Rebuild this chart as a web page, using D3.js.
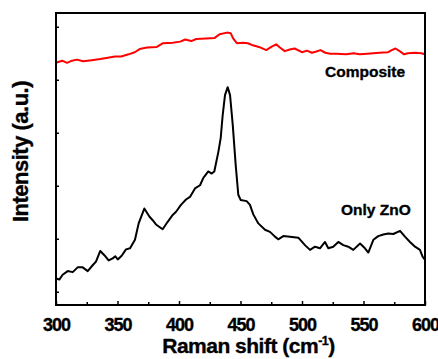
<!DOCTYPE html>
<html>
<head>
<meta charset="utf-8">
<script src="https://cdn.jsdelivr.net/npm/d3@7"></script>
<style>
  html, body { margin: 0; padding: 0; background: #fff; }
  svg text { font-family: "Liberation Sans", Arial, sans-serif; font-weight: bold; fill: #000; stroke: #000; stroke-width: 0.35px; }
</style>
</head>
<body>
<svg id="chart" width="438" height="359"></svg>
<script>
// Raman shift (cm^-1) and intensity (a.u., offset) for the two spectra
const compositeShift = [300,305,309,313,317,322,329,336,341,348,353,359,364,368,374,382,387,395,401,405,410,414,422,429,433,439,442,444,447,452,456,460,465,471,475,479,482,486,490,494,500,504,508,511,515,519,523,528,536,542,547,553,558,563,570,573,576,580,583,586,592,597,600];
const compositeIntensity = [5.32,5.36,5.32,5.36,5.38,5.35,5.37,5.39,5.41,5.44,5.44,5.48,5.52,5.58,5.61,5.62,5.69,5.70,5.72,5.76,5.73,5.77,5.78,5.79,5.86,5.89,5.88,5.78,5.69,5.70,5.69,5.65,5.62,5.56,5.62,5.67,5.61,5.54,5.57,5.59,5.52,5.55,5.51,5.53,5.56,5.51,5.49,5.49,5.48,5.50,5.48,5.49,5.50,5.51,5.52,5.56,5.59,5.53,5.48,5.50,5.51,5.50,5.48];

const znoShift = [300,302.7,305.4,309.5,313.6,317.6,321.7,325.8,329.8,332.5,336,339.3,342.8,346.1,348.2,350.2,353.4,356.9,360.2,364.2,367.2,371.8,375.9,378.6,381.3,386.7,390.8,394.9,397.6,401.6,405.7,408.9,413,417.1,419.8,423.8,426.6,428.7,432,433.9,435.5,437.4,439.6,441.5,443.7,446.1,448.2,450.2,455,457.7,460.4,464.5,469.9,474,478,480.7,484.8,490.2,497,502.4,506.5,510.6,514.6,518.7,521.4,525.4,529.5,533.6,537.6,541.7,547.2,551.2,553.9,558,562,566.1,570.2,574.2,579.7,583.7,587.8,591.9,595.9,598.1,600];
const znoIntensity = [1.25,1.23,1.32,1.39,1.37,1.46,1.46,1.39,1.50,1.57,1.77,1.69,1.59,1.63,1.67,1.61,1.68,1.80,1.82,1.98,2.29,2.57,2.42,2.35,2.27,2.18,2.32,2.45,2.51,2.64,2.74,2.79,2.95,3.01,3.15,3.27,3.23,3.27,3.64,3.90,4.33,4.71,4.86,4.71,4.15,3.39,2.83,2.73,2.71,2.64,2.46,2.29,2.17,2.13,2.04,1.99,2.05,2.04,2.02,1.88,1.79,1.85,1.82,1.94,1.82,1.85,1.94,1.88,1.85,1.79,1.91,1.82,1.74,1.98,2.05,2.08,2.10,2.09,2.15,2.04,1.94,1.85,1.79,1.66,1.60];

const xMajorTicks = [300,350,400,450,500,550,600];
const xMinorTicks = [325,375,425,475,525,575];
const yTicks = [1,2,3,4,5,6];
const seriesLabels = ["Composite", "Only ZnO"];
const xTitle = "Raman shift (cm";
const xTitleSup = "-1";
const yTitle = "Intensity (a.u.)";

const mLeft = 56, mRight = 425, mTop = 13, mBottom = 305;

const svg = d3.select("#chart");
const x = d3.scaleLinear().domain([300, 600]).range([mLeft, mRight]);
const y = d3.scaleLinear().domain([0.75, 6.26]).range([mBottom, mTop]);

// curves
const line = d3.line().x(d => x(d[0])).y(d => y(d[1])).curve(d3.curveLinear);
svg.append("path")
  .datum(compositeShift.map((s, i) => [s, compositeIntensity[i]]))
  .attr("d", line).attr("fill", "none").attr("stroke", "#ff0000")
  .attr("stroke-width", 2).attr("stroke-linejoin", "round");
svg.append("path")
  .datum(znoShift.map((s, i) => [s, znoIntensity[i]]))
  .attr("d", line).attr("fill", "none").attr("stroke", "#000")
  .attr("stroke-width", 2).attr("stroke-linejoin", "round");

// frame
svg.append("rect").attr("x", mLeft).attr("y", mTop)
  .attr("width", mRight - mLeft).attr("height", mBottom - mTop)
  .attr("fill", "none").attr("stroke", "#000").attr("stroke-width", 2);

// x axis (inward ticks)
const xAxis = svg.append("g").attr("transform", `translate(0,${mBottom})`)
  .call(d3.axisBottom(x).tickValues(xMajorTicks).tickSizeInner(-4).tickSizeOuter(0).tickPadding(13).tickFormat(d3.format("d")));
xAxis.select(".domain").remove();
xAxis.selectAll(".tick line").attr("stroke-width", 1.5);
xAxis.selectAll("text").attr("font-size", 18).attr("letter-spacing", "-1px")
  .attr("font-family", "Liberation Sans, Arial, sans-serif").attr("font-weight", "bold");

const xMinor = svg.append("g").attr("transform", `translate(0,${mBottom})`)
  .call(d3.axisBottom(x).tickValues(xMinorTicks).tickSizeInner(-3).tickSizeOuter(0).tickFormat(""));
xMinor.select(".domain").remove();
xMinor.selectAll(".tick line").attr("stroke-width", 1.5);

// y axis (inward ticks, no labels)
const yAxis = svg.append("g").attr("transform", `translate(${mLeft},0)`)
  .call(d3.axisLeft(y).tickValues(yTicks).tickSizeInner(-3).tickSizeOuter(0).tickFormat(""));
yAxis.select(".domain").remove();
yAxis.selectAll(".tick line").attr("stroke-width", 1.5);

// series labels
svg.append("text").attr("x", 325).attr("y", 77).attr("font-size", 15.5).text(seriesLabels[0]);
svg.append("text").attr("x", 341).attr("y", 215).attr("font-size", 15.5).text(seriesLabels[1]);

// axis titles
const xt = svg.append("text").attr("x", 248.5).attr("y", 353).attr("text-anchor", "middle")
  .attr("font-size", 21).attr("letter-spacing", "-0.5px");
xt.append("tspan").text(xTitle);
xt.append("tspan").attr("font-size", 12.5).attr("dy", -8).text(xTitleSup);
xt.append("tspan").attr("dy", 8).text(")");

svg.append("text").attr("transform", `translate(27.5,151.5) rotate(-90)`)
  .attr("text-anchor", "middle").attr("font-size", 22).attr("letter-spacing", "-0.5px").text(yTitle);
</script>
</body>
</html>
